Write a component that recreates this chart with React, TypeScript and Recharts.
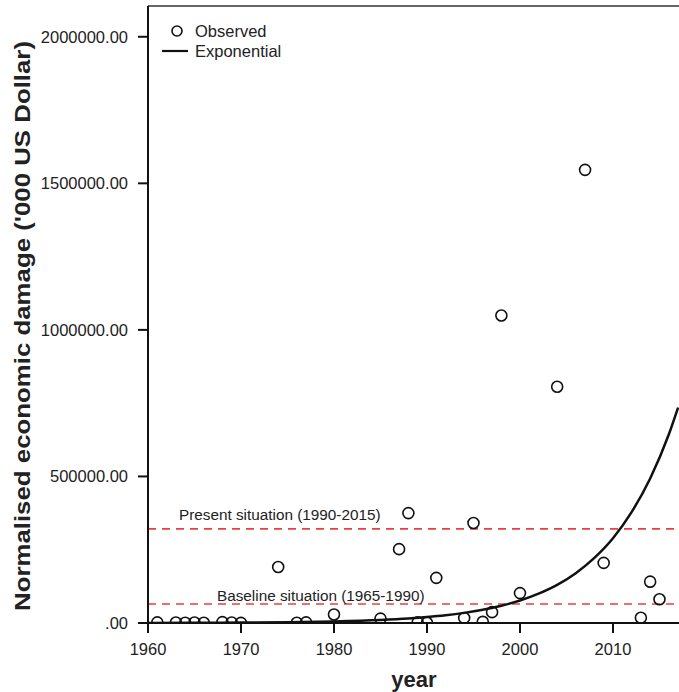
import { ComposedChart, Scatter, Line, XAxis, YAxis, ReferenceLine } from 'recharts';

const FONT = '"Liberation Sans", Arial, Helvetica, sans-serif';

// observed events (year, normalised damage in '000 USD)
const obsYears = [1961, 1963, 1964, 1965, 1966, 1968, 1969, 1970, 1974, 1976, 1977, 1980, 1985, 1987, 1988, 1989, 1990, 1991, 1994, 1995, 1996, 1997, 1998, 2000, 2004, 2007, 2009, 2013, 2014, 2015];
const obsDamage = [2000, 1500, 1000, 1500, 1000, 3000, 1500, 500, 191000, 1000, 2000, 29000, 15000, 252000, 375000, 2000, 1000, 154000, 17000, 341000, 4000, 37000, 1049000, 102000, 806000, 1546000, 205000, 18000, 141000, 81000];

// exponential fit
const fitYears = [1960, 1965, 1970, 1975, 1980, 1985, 1988, 1990, 1992, 1994, 1996, 1998, 2000, 2002, 2004, 2006, 2008, 2010, 2012, 2014, 2016, 2017];
const fitDamage = [400, 700, 1400, 2800, 5400, 10400, 15500, 20300, 26400, 34500, 45000, 58700, 76600, 100000, 130000, 170000, 222000, 289000, 378000, 493000, 643000, 735000];

const xTicks = [1960, 1970, 1980, 1990, 2000, 2010];
const yTicks = [0, 500000, 1000000, 1500000, 2000000];
const yMax = 2105000;

const presentLevel = 321000;
const baselineLevel = 65000;

const observed = obsYears.map((year, i) => ({ year, damage: obsDamage[i] }));
const fitted = fitYears.map((year, i) => ({ year, fit: fitDamage[i] }));

const fmtY = (v: number) => (v === 0 ? '.00' : v.toFixed(2));

const Ring = (props: any) => (
  <circle cx={props.cx} cy={props.cy} r={5.5} fill="none" stroke="#111" strokeWidth={1.6} />
);

function LegendBox() {
  return (
    <svg width={300} height={70} style={{ position: 'absolute', left: 0, top: 0, pointerEvents: 'none' }}>
      <circle cx={177} cy={31} r={5} fill="none" stroke="#111" strokeWidth={1.6} />
      <text x={195} y={31} dominantBaseline="central" fontSize={16.5} fill="#222" fontFamily={FONT}>Observed</text>
      <line x1={162} x2={188} y1={51} y2={51} stroke="#111" strokeWidth={2.2} />
      <text x={195} y={51} dominantBaseline="central" fontSize={16.5} fill="#222" fontFamily={FONT}>Exponential</text>
    </svg>
  );
}

const refLabel = (text: string, dx: number, dy: number) => (p: any) => (
  <text x={p.viewBox.x + dx} y={p.viewBox.y - dy} fontSize={15.3} fill="#222" fontFamily={FONT}>{text}</text>
);

export default function App() {
  return (
    <div style={{ position: 'absolute', left: 0, top: 0, width: 679, height: 692, background: '#fff' }}>
      <ComposedChart width={679} height={692} margin={{ top: 6, right: 0, bottom: 0, left: 0 }}>
        <XAxis
          type="number"
          dataKey="year"
          domain={[1960, 2017.1]}
          ticks={xTicks}
          allowDataOverflow
          height={69}
          tickSize={10}
          tickMargin={10}
          axisLine={{ stroke: '#111', strokeWidth: 2 }}
          tickLine={{ stroke: '#111', strokeWidth: 2 }}
          tick={{ fontSize: 16.5, fill: '#222', fontFamily: FONT }}
          label={{
            content: () => (
              <text x={414} y={687} textAnchor="middle" fontSize={22} fontWeight="bold" fill="#222" fontFamily={FONT}>year</text>
            ),
          }}
        />
        <YAxis
          type="number"
          domain={[0, yMax]}
          ticks={yTicks}
          allowDataOverflow
          width={148}
          tickSize={10}
          tickMargin={10}
          tickFormatter={fmtY}
          axisLine={{ stroke: '#111', strokeWidth: 2 }}
          tickLine={{ stroke: '#111', strokeWidth: 2 }}
          tick={{ fontSize: 16.5, fill: '#222', fontFamily: FONT }}
          label={{
            content: () => (
              <text
                x={22}
                y={326}
                transform="rotate(-90 22 326)"
                textAnchor="middle"
                dominantBaseline="central"
                fontSize={22}
                fontWeight="bold"
                fill="#222"
                fontFamily={FONT}
                textLength={570}
                lengthAdjust="spacingAndGlyphs"
              >
                Normalised economic damage ('000 US Dollar)
              </text>
            ),
          }}
        />
        <ReferenceLine y={yMax} stroke="#333" strokeWidth={1.5} />
        <ReferenceLine
          y={presentLevel}
          stroke="#e8403f"
          strokeWidth={1.6}
          strokeDasharray="8 6"
          label={{ content: refLabel('Present situation (1990-2015)', 31, 9) }}
        />
        <ReferenceLine
          y={baselineLevel}
          stroke="#e8403f"
          strokeWidth={1.6}
          strokeDasharray="8 6"
          label={{ content: refLabel('Baseline situation (1965-1990)', 69, 3) }}
        />
        <Line
          data={fitted}
          dataKey="fit"
          type="monotone"
          stroke="#111"
          strokeWidth={2.5}
          dot={false}
          activeDot={false}
          isAnimationActive={false}
        />
        <Scatter data={observed} dataKey="damage" shape={Ring} isAnimationActive={false} />
      </ComposedChart>
      <LegendBox />
    </div>
  );
}
